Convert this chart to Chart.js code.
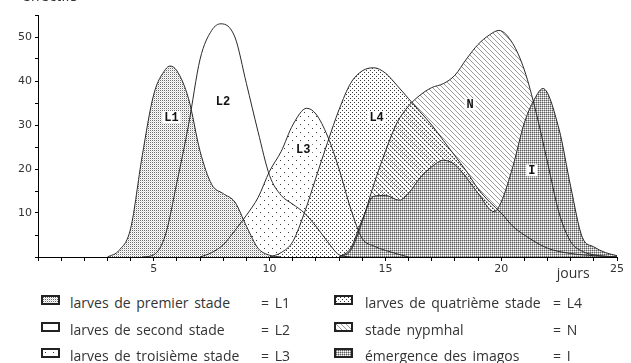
<!DOCTYPE html>
<html>
<head>
<meta charset="utf-8">
<script src="https://cdn.jsdelivr.net/npm/chart.js@4.4.1/dist/chart.umd.min.js"></script>
<style>
  html, body { margin: 0; padding: 0; background: #fff; }
  body { width: 631px; height: 363px; position: relative; overflow: hidden; font-family: "Open Sans", sans-serif; color: #333; }
  #wrap { position: absolute; left: 0; top: 0; width: 631px; height: 290px; }
  .key { position: absolute; font-size: 14px; line-height: 16px; white-space: nowrap; word-spacing: 2px; }
  .swatch { position: absolute; display: block; }
</style>
</head>
<body>
<div id="wrap"><canvas id="chart"></canvas></div>
<div id="legend"></div>
<script>
// effectifs par stade (jours / effectifs)
const l1Days = [3, 3.5, 4, 4.5, 5, 5.5, 5.7, 6, 6.5, 7, 7.5, 8, 8.5, 9, 9.5, 10, 10.5];
const l1Counts = [0, 1.5, 6.5, 23, 37, 42.6, 43.4, 42.3, 36, 24, 16.5, 14.4, 12.5, 7, 2, 0.4, 0];

const l2Days = [4.5, 5, 5.5, 6, 6.5, 7, 7.5, 7.9, 8.5, 9, 9.5, 10, 10.5, 11, 11.5, 12, 12.5, 13, 13.5];
const l2Counts = [0, 0.5, 5, 17, 30, 45, 51.5, 53, 50, 39.4, 28.5, 18.5, 14, 12, 10, 7, 3.5, 0.5, 0];

const l3Days = [7, 7.5, 8, 8.5, 9, 9.5, 10, 10.5, 11, 11.6, 12, 12.5, 13, 13.5, 14, 14.5, 15, 16];
const l3Counts = [0, 1, 2.8, 6, 9.5, 13.5, 19.5, 24, 30, 33.8, 32.5, 27.5, 20, 11, 4.2, 2.5, 1.5, 0];

const l4Days = [10, 10.5, 11, 11.5, 12, 12.5, 13, 13.5, 14, 14.5, 15, 15.5, 16, 16.5, 17, 17.5, 18, 18.5, 19, 19.5, 20, 20.5, 21, 22, 23, 24, 25];
const l4Counts = [0, 1, 3.5, 10, 18, 26, 33.5, 39.5, 42.3, 43, 41.8, 39, 36, 33, 30, 26.5, 23, 19.5, 15.5, 12.5, 10, 7, 5, 2, 0.8, 0.3, 0];

const nDays = [13, 13.5, 14, 14.5, 15, 15.5, 16, 16.5, 17, 17.5, 18, 18.5, 19, 19.5, 19.9, 20.5, 21, 21.5, 22, 22.5, 23, 23.5, 24, 25];
const nCounts = [0, 1.5, 8, 16.5, 24, 30.5, 34.3, 36.8, 38.5, 39.4, 41.3, 45, 48.3, 50.5, 51.5, 48.5, 42.5, 33, 21.5, 10, 3.5, 1.3, 0.5, 0];

const iDays = [13, 13.5, 14, 14.5, 15, 15.6, 16, 16.5, 17, 17.5, 18, 18.5, 19, 19.7, 20, 20.5, 21, 21.5, 21.8, 22.5, 23, 23.5, 24, 24.5, 25];
const iCounts = [0, 2, 8.5, 13.8, 14, 12.9, 14.5, 18, 20.5, 22, 21, 18, 14.5, 10.3, 12.5, 20.5, 30.5, 36.5, 38.3, 29, 16, 4.5, 2.3, 1, 0.3];

// étiquettes posées dans les courbes
const stageCodes = ["L1", "L2", "L3", "L4", "N", "I"];
const codeDays = [5.76, 7.99, 11.45, 14.62, 18.66, 21.32];
const codeCounts = [31.8, 35.4, 24.6, 31.8, 34.7, 19.7];

const stageNames = [
  "larves de premier stade",
  "larves de second stade",
  "larves de troisième stade",
  "larves de quatrième stade",
  "stade nypmhal",
  "émergence des imagos",
];

const xTicksShown = [5, 10, 15, 20, 25];
const yTicksShown = [10, 20, 30, 40, 50];

// motifs de remplissage (trames)
function makeTile(size, bg, dots) {
  const c = document.createElement("canvas");
  c.width = size;
  c.height = size;
  const g = c.getContext("2d");
  if (bg) {
    g.fillStyle = bg;
    g.fillRect(0, 0, size, size);
  }
  dots.forEach(([x, y, col]) => {
    g.fillStyle = col;
    g.fillRect(x, y, 1, 1);
  });
  return c;
}

const D = "#3a3a3a";
const H = "#9a9a9a";
const hatch = [];
for (let k = 0; k < 10; k++) {
  hatch.push([k, k, H], [k, (k + 5) % 10, H]);
}
const tiles = {
  L1: makeTile(2, null, [[0, 0, "#6a6a6a"], [1, 1, "#dcdcdc"]]),
  L2: null,
  L3: makeTile(8, null, [[0, 0, D], [4, 4, D]]),
  L4: makeTile(4, null, [[0, 0, D], [2, 2, D]]),
  N: makeTile(10, null, hatch),
  I: makeTile(4, "#b4b4b4", [
    [0, 0, "#5c5c5c"], [2, 0, "#5c5c5c"], [0, 2, "#5c5c5c"], [2, 2, "#5c5c5c"],
    [1, 1, "#fff"], [3, 1, "#fff"], [1, 3, "#fff"], [3, 3, "#fff"],
  ]),
};

const ctx = document.getElementById("chart").getContext("2d");
function fillFor(code) {
  return tiles[code] ? ctx.createPattern(tiles[code], "repeat") : "rgba(0,0,0,0)";
}

function points(days, counts) {
  return days.map((d, i) => ({ x: d, y: counts[i] }));
}

const series = [
  { code: "L1", days: l1Days, counts: l1Counts },
  { code: "L2", days: l2Days, counts: l2Counts },
  { code: "L3", days: l3Days, counts: l3Counts },
  { code: "L4", days: l4Days, counts: l4Counts },
  { code: "N", days: nDays, counts: nCounts },
  { code: "I", days: iDays, counts: iCounts },
];

const stageLabels = {
  id: "stageLabels",
  afterDatasetsDraw(chart) {
    const { ctx, scales, chartArea } = chart;
    const x = scales.x;
    const y = scales.y;
    ctx.save();
    ctx.font = 'bold 12px "Liberation Mono"';
    ctx.textAlign = "center";
    ctx.textBaseline = "middle";
    stageCodes.forEach((t, i) => {
      const px = x.getPixelForValue(codeDays[i]);
      const py = y.getPixelForValue(codeCounts[i]);
      const w = ctx.measureText(t).width;
      ctx.fillStyle = "#fff";
      ctx.fillRect(px - w / 2 - 2, py - 6, w + 4, 12);
      ctx.fillStyle = "#111";
      ctx.fillText(t, px, py + 1);
    });

    // titres des axes
    ctx.fillStyle = "#333";
    ctx.textAlign = "left";
    ctx.textBaseline = "alphabetic";
    ctx.font = '15px "Open Sans"';
    ctx.fillText("effectifs", chartArea.left - 16, 1);
    ctx.font = '14px "Open Sans"';
    ctx.fillText("jours", x.getPixelForValue(22.4), chartArea.bottom + 20.5);
    ctx.restore();
  },
};

new Chart(ctx, {
  type: "line",
  data: {
    datasets: series.map((s) => ({
      label: s.code,
      data: points(s.days, s.counts),
      fill: "origin",
      backgroundColor: fillFor(s.code),
      borderColor: "#2a2a2a",
      borderWidth: 1,
      pointRadius: 0,
      cubicInterpolationMode: "monotone",
      order: s.code === "I" ? 0 : 1,
    })),
  },
  options: {
    responsive: true,
    maintainAspectRatio: false,
    animation: false,
    layout: { padding: { top: 15, right: 14, left: 0, bottom: 0 } },
    plugins: {
      legend: { display: false },
      tooltip: { enabled: false },
      filler: { drawTime: "beforeDatasetsDraw" },
    },
    scales: {
      x: {
        type: "linear",
        min: 0,
        max: 25,
        afterFit: (s) => { s.height = 33; },
        border: { color: "#000", width: 1 },
        grid: { drawOnChartArea: false, color: "#000", tickLength: 4 },
        ticks: {
          stepSize: 1,
          autoSkip: false,
          maxRotation: 0,
          padding: 2,
          color: "#333",
          font: { family: "DejaVu Sans", size: 11 },
          callback: (v) => (xTicksShown.includes(v) ? v : ""),
        },
      },
      y: {
        min: 0,
        max: 55,
        afterFit: (s) => { s.width = 38; },
        border: { color: "#000", width: 1 },
        grid: { drawOnChartArea: false, color: "#000", tickLength: 3 },
        ticks: {
          stepSize: 5,
          autoSkip: false,
          padding: 3,
          color: "#333",
          font: { family: "DejaVu Sans", size: 11 },
          callback: (v) => (yTicksShown.includes(v) ? v : ""),
        },
      },
    },
  },
  plugins: [stageLabels],
});

// légende : deux colonnes de trois lignes
const legend = document.getElementById("legend");
series.forEach((s, i) => {
  const col = Math.floor(i / 3);
  const row = i % 3;
  const top = 295 + row * 26.5;
  const iconLeft = col === 0 ? 41 : 334;
  const textLeft = col === 0 ? 70 : 365;
  const codeLeft = col === 0 ? 261 : 553;

  const sw = document.createElement("canvas");
  sw.width = 19;
  sw.height = 10;
  sw.className = "swatch";
  sw.style.left = iconLeft + "px";
  sw.style.top = Math.round(top) + "px";
  const g = sw.getContext("2d");
  g.fillStyle = "#fff";
  g.fillRect(0, 0, 19, 10);
  if (tiles[s.code]) {
    g.fillStyle = g.createPattern(tiles[s.code], "repeat");
    g.fillRect(0, 0, 19, 10);
  }
  g.strokeStyle = "#222";
  g.lineWidth = 2;
  g.strokeRect(1, 1, 17, 8);
  legend.appendChild(sw);

  const name = document.createElement("div");
  name.className = "key";
  name.style.left = textLeft + "px";
  name.style.top = top + "px";
  name.textContent = stageNames[i];
  legend.appendChild(name);

  const code = document.createElement("div");
  code.className = "key";
  code.style.left = codeLeft + "px";
  code.style.top = top + "px";
  code.textContent = "= " + s.code;
  legend.appendChild(code);
});
</script>
</body>
</html>
